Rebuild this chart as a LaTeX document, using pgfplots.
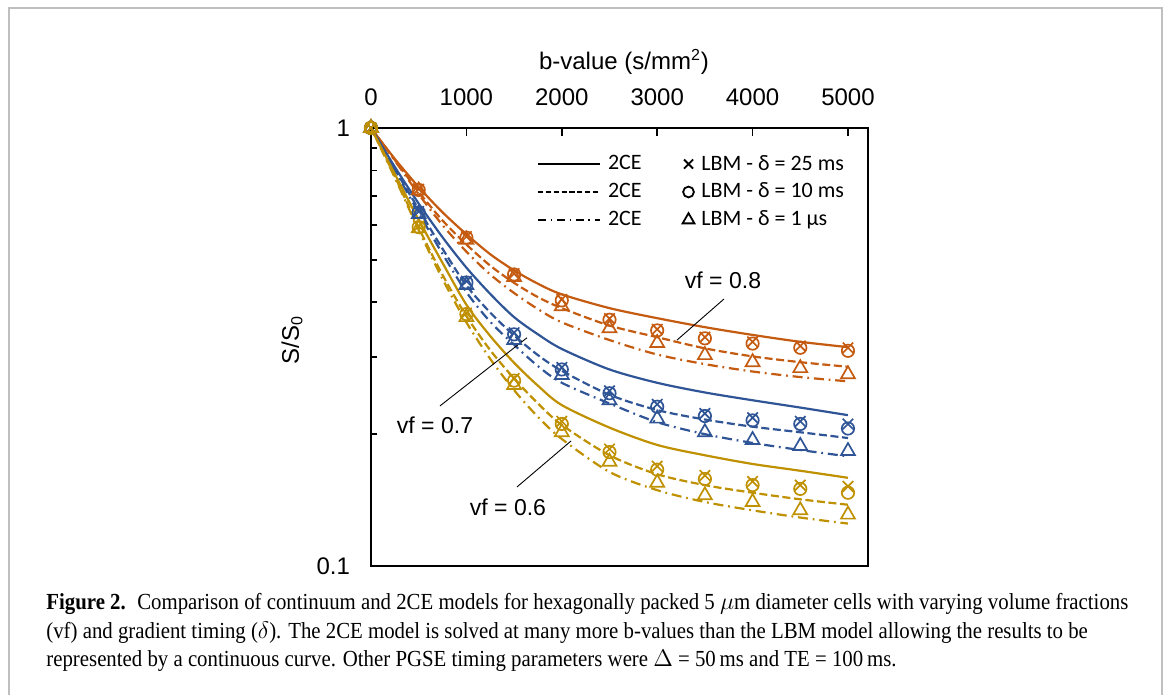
\documentclass[border=0pt]{standalone}
\usepackage{fontspec}
\setmainfont{Liberation Sans}
\newfontfamily\legendfont{Carlito}
\newfontfamily\capfont[FakeStretch=0.905]{Liberation Serif}
\usepackage{pgfplots}
\usepackage{pgfplotstable}
\pgfplotsset{compat=1.18}
\definecolor{cor}{HTML}{C55A11}
\definecolor{cbl}{HTML}{2F5597}
\definecolor{cgo}{HTML}{BF9000}

% 2CE curves: s = delta 25 ms (solid), d = 10 ms (dashed), dd = 1 us (dash-dot)
\pgfplotstableread{
b s d dd
0 1.000 1.000 1.000
250 0.850 0.845 0.842
500 0.733 0.715 0.706
750 0.642 0.615 0.600
1000 0.572 0.542 0.522
1250 0.515 0.485 0.463
1500 0.473 0.443 0.420
1750 0.441 0.411 0.386
2000 0.417 0.388 0.360
2500 0.388 0.354 0.328
3000 0.368 0.333 0.304
3500 0.351 0.314 0.289
4000 0.337 0.301 0.278
4500 0.325 0.292 0.270
5000 0.316 0.285 0.264
}\orc
\pgfplotstableread{
b s d dd
0 1.000 1.000 1.000
250 0.815 0.805 0.800
500 0.672 0.652 0.640
750 0.563 0.530 0.516
1000 0.480 0.437 0.422
1250 0.418 0.379 0.361
1500 0.370 0.336 0.320
1750 0.338 0.303 0.286
2000 0.313 0.279 0.262
2500 0.281 0.246 0.235
3000 0.262 0.227 0.213
3500 0.249 0.216 0.200
4000 0.239 0.208 0.191
4500 0.230 0.202 0.184
5000 0.221 0.196 0.178
}\blc
\pgfplotstableread{
b s d dd
0 1.000 1.000 1.000
250 0.785 0.775 0.770
500 0.617 0.592 0.585
750 0.492 0.462 0.452
1000 0.395 0.372 0.360
1250 0.335 0.311 0.297
1500 0.291 0.268 0.252
1750 0.258 0.235 0.219
2000 0.233 0.210 0.195
2500 0.207 0.179 0.164
3000 0.189 0.162 0.149
3500 0.179 0.153 0.140
4000 0.171 0.147 0.134
4500 0.165 0.142 0.129
5000 0.159 0.138 0.125
}\goc
% LBM points: x = 25 ms, o = 10 ms, t = 1 us
\pgfplotstableread{
b x o t
0 1 1 1
500 0.725 0.722 0.720
1000 0.565 0.562 0.556
1500 0.465 0.463 0.457
2000 0.406 0.404 0.392
2500 0.367 0.365 0.349
3000 0.347 0.345 0.323
3500 0.333 0.331 0.303
4000 0.325 0.322 0.292
4500 0.318 0.315 0.283
5000 0.315 0.310 0.274
}\orm
\pgfplotstableread{
b x o t
0 1 1 1
500 0.645 0.642 0.636
1000 0.447 0.444 0.438
1500 0.341 0.338 0.328
2000 0.284 0.281 0.273
2500 0.251 0.248 0.239
3000 0.234 0.231 0.217
3500 0.223 0.220 0.202
4000 0.218 0.215 0.194
4500 0.214 0.211 0.188
5000 0.211 0.206 0.183
}\blm
\pgfplotstableread{
b x o t
0 1 1 1
500 0.597 0.594 0.590
1000 0.378 0.376 0.370
1500 0.268 0.265 0.259
2000 0.214 0.211 0.202
2500 0.185 0.182 0.173
3000 0.169 0.166 0.155
3500 0.161 0.158 0.145
4000 0.156 0.153 0.140
4500 0.153 0.150 0.134
5000 0.152 0.147 0.131
}\gom

\pgfplotsset{
  solidc/.style={line width=1.1pt, smooth},
  dashc/.style={line width=1.1pt, smooth, dash pattern=on 4pt off 1.8pt},
  dotc/.style={line width=1.1pt, smooth, dash pattern=on 5pt off 2.4pt on 0.9pt off 2.4pt},
  mx/.style={only marks, mark=x, mark size=3.7pt, mark options={line width=0.85pt, solid}},
  mo/.style={only marks, mark=o, mark size=3.1pt, mark options={line width=0.85pt, solid}},
  mt/.style={only marks, mark=triangle, mark size=4pt, mark options={line width=0.85pt, solid}},
  longline/.style={legend image code/.code={\draw[##1] (0pt,0pt) -- (31pt,0pt);}},
  onemark/.style={legend image code/.code={\draw[##1] plot coordinates {(0pt,0pt)};}},
}

\begin{document}
\begin{tikzpicture}
\useasboundingbox (0,0) rectangle (585pt,347.5pt);
\draw[black!25, line width=0.6pt] (4.5pt,0pt) -- (4.5pt,343.5pt) -- (581pt,343.5pt) -- (581pt,0pt);

\begin{axis}[
  at={(185.5pt,64.5pt)}, anchor=south west, scale only axis,
  width=248.5pt, height=219pt,
  xmin=0, xmax=5210, ymode=log, ymin=0.1, ymax=1,
  xtick={0,1000,2000,3000,4000,5000}, xtick pos=right, xticklabel pos=upper,
  ytick={0.1,1}, yticklabels={0.1,1},
  minor ytick={0.2,0.3,0.4,0.5,0.6,0.7,0.8,0.9}, ytick pos=left,
  tick align=inside, major tick length=4pt, minor tick length=3pt,
  every tick/.style={black, line width=0.8pt},
  every minor tick/.style={black, line width=0.8pt},
  axis line style={line width=1.1pt},
  tick label style={font=\fontsize{12}{14}\selectfont},
  xticklabel style={yshift=7.5pt},
  yticklabel style={xshift=-7pt},
  /pgf/number format/assume math mode=true,
  /pgf/number format/1000 sep={},
  clip=false,
  legend style={at={(rel axis cs:0.334,0.946)}, anchor=north west,
    draw=none, fill=none, inner sep=0pt,
    font=\legendfont\fontsize{11}{13}\selectfont,
    row sep=2pt, nodes={inner xsep=3.5pt, inner ysep=1.5pt},
    /tikz/every even column/.append style={column sep=17pt}},
  legend columns=2, legend cell align=left,
]
\addlegendimage{black, line width=0.8pt, longline}
\addlegendentry{2CE}
\addlegendimage{black, only marks, mark=x, mark size=3.2pt, line width=0.9pt, onemark}
\addlegendentry{LBM - δ = 25 ms}
\addlegendimage{black, line width=0.8pt, dash pattern=on 2.6pt off 1.3pt, longline}
\addlegendentry{2CE}
\addlegendimage{black, only marks, mark=o, mark size=2.7pt, line width=0.9pt, onemark}
\addlegendentry{LBM - δ = 10 ms}
\addlegendimage{black, line width=0.8pt, dash pattern=on 4pt off 2.3pt on 0.8pt off 2.3pt, longline}
\addlegendentry{2CE}
\addlegendimage{black, only marks, mark=triangle, mark size=3.4pt, line width=0.9pt, onemark}
\addlegendentry{LBM - δ = 1 µs}

% vf = 0.8
\addplot[cor, solidc, forget plot] table[x=b, y=s] {\orc};
\addplot[cor, dashc, forget plot] table[x=b, y=d] {\orc};
\addplot[cor, dotc, forget plot] table[x=b, y=dd] {\orc};
% vf = 0.7
\addplot[cbl, solidc, forget plot] table[x=b, y=s] {\blc};
\addplot[cbl, dashc, forget plot] table[x=b, y=d] {\blc};
\addplot[cbl, dotc, forget plot] table[x=b, y=dd] {\blc};
% vf = 0.6
\addplot[cgo, solidc, forget plot] table[x=b, y=s] {\goc};
\addplot[cgo, dashc, forget plot] table[x=b, y=d] {\goc};
\addplot[cgo, dotc, forget plot] table[x=b, y=dd] {\goc};

\addplot[cor, mx, forget plot] table[x=b, y=x] {\orm};
\addplot[cor, mo, forget plot] table[x=b, y=o] {\orm};
\addplot[cor, mt, forget plot] table[x=b, y=t] {\orm};
\addplot[cbl, mx, forget plot] table[x=b, y=x] {\blm};
\addplot[cbl, mo, forget plot] table[x=b, y=o] {\blm};
\addplot[cbl, mt, forget plot] table[x=b, y=t] {\blm};
\addplot[cgo, mx, forget plot] table[x=b, y=x] {\gom};
\addplot[cgo, mo, forget plot] table[x=b, y=o] {\gom};
\addplot[cgo, mt, forget plot] table[x=b, y=t] {\gom};

\draw[black, line width=0.45pt] (axis cs:3700,0.407) -- (axis cs:3208,0.328);
\node[font=\fontsize{11.5}{13}\selectfont] at (axis cs:3690,0.450) {vf = 0.8};
\draw[black, line width=0.45pt] (axis cs:723,0.232) -- (axis cs:1635,0.332);
\node[font=\fontsize{11.5}{13}\selectfont] at (axis cs:671,0.210) {vf = 0.7};
\draw[black, line width=0.45pt] (axis cs:1530,0.1515) -- (axis cs:2097,0.193);
\node[font=\fontsize{11.5}{13}\selectfont] at (axis cs:1436,0.136) {vf = 0.6};
\end{axis}

\node[font=\fontsize{12}{14}\selectfont] at (312pt,316.5pt) {b-value (s/mm\textsuperscript{2})};
\node[rotate=90, font=\fontsize{12}{14}\selectfont] at (146pt,177.5pt) {S/S\textsubscript{0}};

\node[anchor=base west, inner sep=0pt, font=\capfont\fontsize{11.5}{14}\selectfont] at (23pt,42.5pt)
  {\textbf{Figure 2.}\enspace Comparison of continuum and 2CE models for hexagonally packed 5 $\mu$m diameter cells with varying volume fractions};
\node[anchor=base west, inner sep=0pt, font=\capfont\fontsize{11.5}{14}\selectfont] at (23pt,28.5pt)
  {(vf) and gradient timing ($\delta$). The 2CE model is solved at many more b-values than the LBM model allowing the results to be};
\node[anchor=base west, inner sep=0pt, font=\capfont\fontsize{11.5}{14}\selectfont] at (23pt,14.5pt)
  {represented by a continuous curve. Other PGSE timing parameters were $\Delta$ = 50\,ms and TE = 100\,ms.};
\end{tikzpicture}
\end{document}
